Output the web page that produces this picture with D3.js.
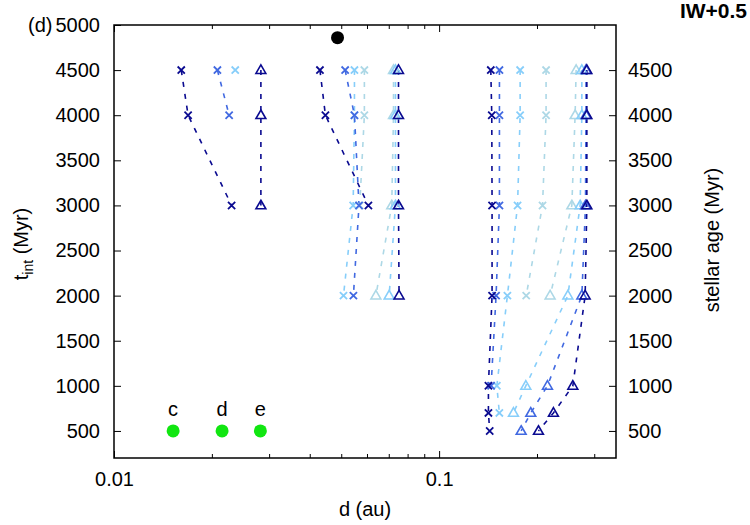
<!DOCTYPE html>
<html>
<head>
<meta charset="utf-8">
<script src="https://cdn.jsdelivr.net/npm/d3@7"></script>
<style>
  body { margin: 0; background: #fff; }
  svg { font-family: "Liberation Sans", Arial, sans-serif; }
</style>
</head>
<body>
<svg width="750" height="525"></svg>
<script>
// ages (Myr) at which each run is sampled, top to bottom
const ages = [4500, 4000, 3000, 2000, 1000, 700, 500];

// distances (au) for each run, one per age above
const innerNavyX   = [0.0161, 0.0169, 0.0230];
const innerBlueX   = [0.0208, 0.0226];
const innerSkyX    = [0.0236];
const innerNavyTri = [0.0283, 0.0283, 0.0283];

const midNavyX   = [0.0430, 0.0447, 0.0606];
const midBlueX   = [0.0514, 0.0549, 0.0567, 0.0545];
const midSkyX    = [0.0549, 0.0549, 0.0544, 0.0508];
const midPaleX   = [0.0589, 0.0589, 0.0570];
const midPaleTri = [0.0724, 0.0724, 0.0715, 0.0639];
const midSkyTri  = [0.0734, 0.0734, 0.0734, 0.0702];
const midNavyTri = [0.0750, 0.0750, 0.0750, 0.0753];

const outNavyX   = [0.1442, 0.1452, 0.1455, 0.1455, 0.1418, 0.1418, 0.1431];
const outBlueX   = [0.1533, 0.1533, 0.1533, 0.1497, 0.1445];
const outSkyX    = [0.1775, 0.1775, 0.1743, 0.1622, 0.1505, 0.1532];
const outPaleX   = [0.2133, 0.2133, 0.2080, 0.1853];
const outPaleTri = [0.2639, 0.2620, 0.2560, 0.2195];
const outSkyTri  = [0.2748, 0.2748, 0.2715, 0.2489, 0.1848, 0.1693];
const outBlueTri = [0.2830, 0.2830, 0.2820, 0.2748, 0.2154, 0.1914, 0.1788];
const outNavyTri = [0.2847, 0.2847, 0.2847, 0.2813, 0.2578, 0.2247, 0.2021];

// observed planets
const planetNames = ["c", "d", "e"];
const planetD = [0.0152, 0.0215, 0.0282];
const planetAge = 500;
const blackDot = [0.0487, 4860];

const leftTicks = [500, 1000, 1500, 2000, 2500, 3000, 3500, 4000, 4500, 5000];
const rightTicks = [500, 1000, 1500, 2000, 2500, 3000, 3500, 4000, 4500];
const xMajor = [0.01, 0.1];
const xMinor = [0.02, 0.03, 0.04, 0.05, 0.06, 0.07, 0.08, 0.09, 0.2, 0.3];

const colors = { navy: "#0a0a90", blue: "#4169e1", sky: "#87cefa", pale: "#add8e6" };

// drawing order: pale first, navy last
const runs = [
  [midPaleX, "pale", "x"], [outPaleX, "pale", "x"],
  [midPaleTri, "pale", "tri"], [outPaleTri, "pale", "tri"],
  [innerSkyX, "sky", "x"], [midSkyX, "sky", "x"], [outSkyX, "sky", "x"],
  [midSkyTri, "sky", "tri"], [outSkyTri, "sky", "tri"],
  [innerBlueX, "blue", "x"], [midBlueX, "blue", "x"], [outBlueX, "blue", "x"],
  [outBlueTri, "blue", "tri"],
  [innerNavyX, "navy", "x"], [midNavyX, "navy", "x"], [outNavyX, "navy", "x"],
  [innerNavyTri, "navy", "tri"], [midNavyTri, "navy", "tri"], [outNavyTri, "navy", "tri"]
].map(r => ({ pts: r[0].map((d, i) => [d, ages[i]]), color: colors[r[1]], sym: r[2] }));

const svg = d3.select("svg");
const L = 114, R = 616, T = 25, B = 458;
const x = d3.scaleLog().domain([0.01, 0.35]).range([L, R]);
const y = d3.scaleLinear().domain([200, 5000]).range([B, T]);
const fs = 20;

// axes (gnuplot style: ticks inside)
svg.append("g").attr("transform", `translate(0,${B})`)
  .call(d3.axisBottom(x).tickValues(xMajor).tickSize(-7).tickPadding(14).tickFormat(d3.format("")))
  .call(g => g.select(".domain").remove());
svg.append("g").attr("transform", `translate(0,${B})`)
  .call(d3.axisBottom(x).tickValues(xMinor).tickSize(-4).tickFormat(""))
  .call(g => g.select(".domain").remove());
svg.append("g").attr("transform", `translate(0,${T})`)
  .call(d3.axisTop(x).tickValues(xMajor).tickSize(-7).tickFormat(""))
  .call(g => g.select(".domain").remove());
svg.append("g").attr("transform", `translate(0,${T})`)
  .call(d3.axisTop(x).tickValues(xMinor).tickSize(-4).tickFormat(""))
  .call(g => g.select(".domain").remove());
svg.append("g").attr("transform", `translate(${L},0)`)
  .call(d3.axisLeft(y).tickValues(leftTicks).tickSize(-7).tickPadding(14).tickFormat(d3.format("d")))
  .call(g => g.select(".domain").remove());
svg.append("g").attr("transform", `translate(${R},0)`)
  .call(d3.axisRight(y).tickValues(rightTicks).tickSize(-7).tickPadding(12).tickFormat(d3.format("d")))
  .call(g => g.select(".domain").remove());

svg.selectAll(".tick text").attr("font-size", fs).attr("font-family", "Liberation Sans, Arial, sans-serif").attr("fill", "#000");
svg.selectAll(".tick line").attr("stroke", "#000").attr("stroke-width", 1);

svg.append("rect").attr("x", L).attr("y", T).attr("width", R - L).attr("height", B - T)
  .attr("fill", "none").attr("stroke", "#000").attr("stroke-width", 1.5);

// runs
const line = d3.line().x(d => x(d[0])).y(d => y(d[1]));
const plot = svg.append("g");
runs.forEach(r => {
  plot.append("path").attr("d", line(r.pts)).attr("fill", "none")
    .attr("stroke", r.color).attr("stroke-width", 1.6).attr("stroke-dasharray", "5,7");
});
runs.forEach(r => {
  r.pts.forEach(p => {
    const cx = x(p[0]), cy = y(p[1]);
    if (r.sym === "x") {
      const s = 3.6;
      plot.append("path").attr("d", `M${cx - s},${cy - s}L${cx + s},${cy + s}M${cx - s},${cy + s}L${cx + s},${cy - s}`)
        .attr("stroke", r.color).attr("stroke-width", 1.8).attr("fill", "none");
    } else {
      plot.append("path").attr("d", d3.symbol(d3.symbolTriangle, 42)())
        .attr("transform", `translate(${cx},${cy + 0.5})`)
        .attr("stroke", r.color).attr("stroke-width", 1.6).attr("fill", "none");
    }
  });
});

// planets
plot.selectAll(".planet").data(planetD).enter().append("circle")
  .attr("cx", d => x(d)).attr("cy", y(planetAge)).attr("r", 6.5).attr("fill", "#11e611");
plot.selectAll(".plabel").data(planetD).enter().append("text")
  .attr("x", d => x(d)).attr("y", y(planetAge) - 15).attr("text-anchor", "middle")
  .attr("font-size", fs).text((d, i) => planetNames[i]);
plot.append("circle").attr("cx", x(blackDot[0])).attr("cy", y(blackDot[1])).attr("r", 6.5).attr("fill", "#000");

// labels
svg.append("text").attr("x", 365).attr("y", 516).attr("text-anchor", "middle").attr("font-size", fs).text("d (au)");
const yl = svg.append("text").attr("transform", "translate(28,244) rotate(-90)").attr("text-anchor", "middle").attr("font-size", fs);
yl.append("tspan").text("t");
yl.append("tspan").attr("font-size", 14).attr("dy", 5).text("int");
yl.append("tspan").attr("dy", -5).text(" (Myr)");
svg.append("text").attr("transform", "translate(719,240) rotate(-90)").attr("text-anchor", "middle").attr("font-size", fs).text("stellar age (Myr)");
svg.append("text").attr("x", 28).attr("y", 32).attr("font-size", fs).text("(d)");
svg.append("text").attr("x", 747).attr("y", 18).attr("text-anchor", "end").attr("font-size", 21).attr("font-weight", "bold").text("IW+0.5");
</script>
</body>
</html>
